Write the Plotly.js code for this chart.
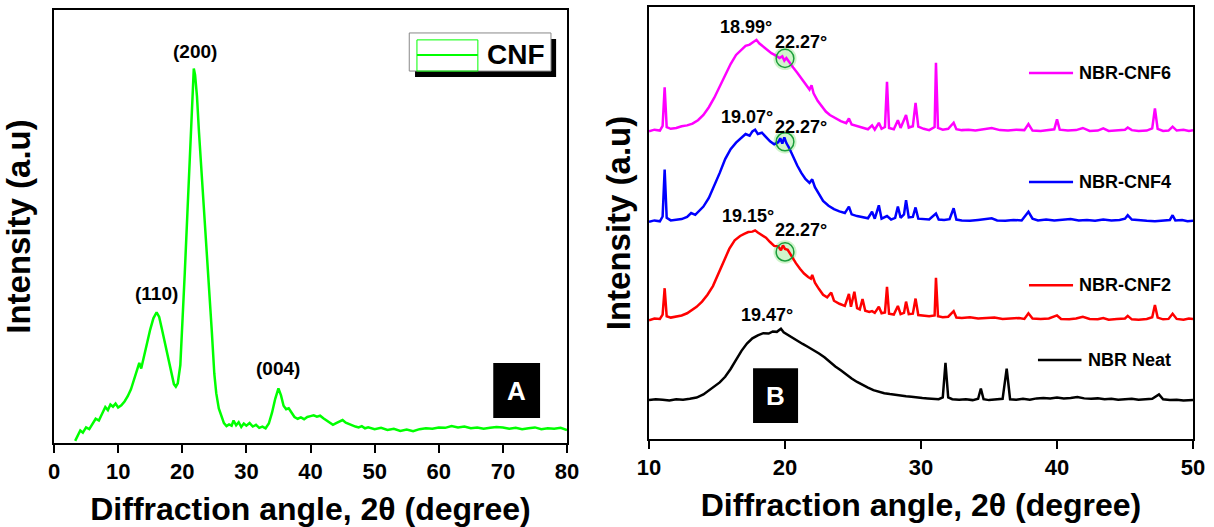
<!DOCTYPE html>
<html><head><meta charset="utf-8">
<script src="https://cdn.plot.ly/plotly-3.0.1.min.js"></script>
<style>html,body{margin:0;padding:0;background:#fff}#chart{width:1214px;height:527px}</style>
</head><body><div id="chart"></div>
<script>
// ---------- Panel A : CNF ----------
const cnfX = [3.3,3.7,4.1,4.5,5.0,5.5,6.0,6.5,7.0,7.5,8.0,8.4,8.8,9.2,9.6,10.0,10.5,11.0,11.5,12.0,12.5,13.0,13.3,13.6,14.0,14.5,15.0,15.5,16.0,16.4,16.8,17.2,17.6,18.0,18.4,18.7,19.0,19.3,19.7,20.0,20.4,20.8,21.2,21.5,21.8,22.0,22.3,22.6,23.0,23.4,23.8,24.2,24.6,25.0,25.3,25.7,26.1,26.5,26.9,27.3,27.7,28.0,28.4,28.8,29.2,29.6,30.0,30.5,31.0,31.5,32.0,32.5,33.0,33.5,34.0,34.5,35.0,35.4,35.8,36.2,36.6,37.0,37.5,38.0,38.5,39.0,39.5,40.0,40.5,41.0,41.5,42.0,42.5,43.0,43.5,44.0,44.5,45.0,45.5,46.0,46.5,47.0,47.5,48.0,48.5,49.0,50,51,52,53,54,55,56,57,58,59,60,61,62,63,64,65,66,67,68,69,70,71,72,73,74,75,76,77,78,79,80];
const cnfY = [0.5,1.8,2.9,2.4,3.6,3.2,4.5,5.6,5.2,6.8,8.3,7.6,8.9,8.4,9.1,8.2,8.7,9.6,10.8,12.4,14.6,16.8,18.5,17.2,19.5,23.0,26.2,28.8,30.2,29.1,26.5,23.8,21.2,18.6,15.2,13.6,13.0,13.8,18.0,26.0,39.5,53.0,67.0,78.0,86.5,85.0,80.0,72.0,63.0,55.0,45.0,36.0,26.0,16.0,11.5,8.0,6.4,4.6,3.9,4.3,4.0,5.2,4.1,4.8,3.7,4.5,4.0,4.6,3.8,4.2,3.5,3.8,3.4,4.5,7.0,10.2,12.6,11.0,8.6,7.8,8.0,7.2,6.0,5.6,5.9,5.5,6.0,6.2,6.4,6.1,6.3,5.7,5.2,4.8,4.2,4.6,4.9,5.3,4.7,4.4,4.0,3.8,3.6,3.9,3.4,3.6,3.2,3.5,3.0,3.3,2.8,3.1,2.7,3.2,3.4,3.3,3.6,3.5,3.9,3.6,3.8,3.4,3.6,3.3,3.5,3.7,3.6,3.3,3.5,3.2,3.4,3.6,3.2,3.4,3.3,3.5,3.0];
const cnfPeakLabels = ["(110)","(200)","(004)"];

// ---------- Panel B : NBR composites (offset stacked) ----------
const cnf6X = [10.0,10.4,10.8,11.0,11.15,11.3,11.6,12.0,12.4,12.8,13.2,13.6,14.0,14.4,14.8,15.2,15.6,16.0,16.4,16.8,17.1,17.4,17.7,17.9,18.1,18.4,18.7,19.0,19.3,19.6,19.8,19.95,20.1,20.3,20.6,20.9,21.2,21.5,21.8,21.95,22.1,22.4,22.7,23.0,23.3,23.7,24.1,24.5,24.7,24.9,25.3,25.7,26.1,26.4,26.6,26.9,27.1,27.35,27.5,27.65,28.0,28.3,28.5,28.9,29.1,29.4,29.6,29.8,30.2,30.6,31.0,31.1,31.25,31.6,32.0,32.4,32.6,33.0,33.5,34.0,34.5,35.2,35.8,36.4,37.0,37.6,37.9,38.2,38.8,39.4,39.8,40.0,40.2,40.8,41.4,41.9,42.4,43.0,43.4,43.8,44.4,45.0,45.2,45.5,46.0,46.6,47.0,47.2,47.4,47.8,48.2,48.5,48.8,49.3,49.7,50.0];
const cnf6Y = [71.2,71.6,71.4,72.5,81.4,72.2,71.8,72.0,72.4,72.6,73.0,73.8,75.0,76.8,79.0,81.5,84.3,86.8,88.9,90.2,91.0,91.3,92.0,92.4,91.6,90.8,90.1,89.3,88.8,88.2,88.6,87.6,88.2,87.2,86.0,84.8,83.5,82.3,80.9,81.9,80.0,78.3,76.9,75.8,75.0,74.2,73.6,73.1,74.2,72.8,72.4,72.0,71.7,72.6,71.6,73.2,71.8,72.2,82.7,72.0,71.7,73.8,72.0,75.0,72.1,72.4,77.8,72.3,71.8,71.5,72.2,87.1,72.0,71.6,71.8,73.2,71.7,71.5,71.6,71.4,71.7,72.0,71.5,71.4,71.6,71.5,72.9,71.4,71.3,71.6,71.7,74.0,71.6,71.4,71.5,72.0,71.3,71.4,71.9,71.3,71.4,71.6,72.1,71.5,71.3,71.4,71.9,76.5,71.8,71.3,71.4,72.3,71.4,71.6,71.3,71.5];

const cnf4X = [10.0,10.4,10.8,11.0,11.15,11.3,11.6,12.0,12.4,12.8,13.1,13.4,13.7,14.0,14.4,14.8,15.2,15.6,16.0,16.4,16.8,17.1,17.4,17.6,17.8,18.0,18.3,18.6,18.9,19.2,19.5,19.65,19.8,19.95,20.1,20.3,20.6,20.9,21.2,21.5,21.8,22.0,22.2,22.5,22.8,23.2,23.6,24.0,24.4,24.7,24.9,25.3,25.7,26.1,26.4,26.6,26.9,27.1,27.5,27.8,28.1,28.3,28.5,28.75,28.9,29.1,29.4,29.6,29.8,30.2,30.6,31.1,31.3,31.7,32.1,32.4,32.6,33.0,33.6,34.2,34.8,35.2,35.6,36.2,36.8,37.4,37.9,38.2,38.6,39.2,39.8,40.4,41.0,41.6,42.2,42.8,43.4,44.0,44.6,45.0,45.2,45.5,46.0,46.6,47.2,47.8,48.3,48.5,48.7,49.2,49.6,50.0];
const cnf4Y = [50.3,50.6,50.4,51.5,62.4,51.2,50.6,50.7,50.9,51.4,52.3,51.9,52.8,53.8,55.8,58.6,61.6,64.8,67.1,68.6,69.8,70.6,70.2,71.2,71.6,70.6,70.9,69.8,68.9,68.2,68.7,69.6,68.4,69.8,68.5,67.4,65.3,63.3,61.6,60.2,59.3,60.1,58.3,56.6,55.1,54.0,53.2,52.7,52.3,53.8,52.0,51.6,51.3,51.1,52.6,51.0,54.1,51.0,51.6,50.8,51.2,53.8,51.2,52.0,55.3,51.3,51.4,53.6,51.0,50.9,50.8,52.2,50.8,50.7,50.9,53.4,50.8,50.6,50.5,50.7,50.9,51.1,50.6,50.5,50.7,50.6,52.6,51.0,50.6,50.8,50.6,50.7,50.9,50.6,50.7,50.5,50.8,50.6,50.7,51.0,51.8,50.8,50.6,50.5,50.4,50.6,50.7,51.8,50.6,50.7,50.4,50.5];

const cnf2X = [10.0,10.4,10.8,11.0,11.15,11.3,11.6,12.0,12.4,12.8,13.1,13.5,13.9,14.3,14.7,15.1,15.5,15.9,16.3,16.7,17.0,17.3,17.6,17.8,18.0,18.3,18.6,18.9,19.2,19.5,19.7,19.85,20.0,20.2,20.5,20.8,21.1,21.4,21.7,21.9,22.0,22.2,22.5,22.8,23.1,23.4,23.6,24.0,24.4,24.7,24.85,25.1,25.3,25.5,25.7,25.9,26.2,26.4,26.6,26.9,27.1,27.35,27.5,27.65,28.0,28.3,28.5,28.75,28.9,29.1,29.4,29.6,29.8,30.2,30.6,31.0,31.1,31.25,31.6,32.0,32.4,32.6,33.0,33.6,34.2,34.8,35.4,36.0,36.6,37.2,37.6,37.9,38.2,38.8,39.4,40.0,40.3,40.9,41.4,41.9,42.4,43.0,43.4,43.8,44.4,45.0,45.2,45.5,46.0,46.6,47.0,47.2,47.4,47.8,48.2,48.5,48.8,49.3,49.7,50.0];
const cnf2Y = [27.5,27.9,27.8,28.8,34.9,28.4,28.1,28.3,28.6,29.1,29.8,30.6,31.8,33.4,35.4,38.2,41.3,44.0,46.0,47.0,47.5,47.9,48.0,48.3,47.8,47.2,46.6,45.6,44.7,44.6,43.7,44.8,44.0,43.8,42.2,40.7,39.4,38.3,37.5,37.1,38.0,36.2,34.7,33.4,32.8,33.9,32.0,31.3,30.8,33.6,30.6,34.1,30.3,30.0,32.4,29.7,29.4,29.6,29.2,30.6,29.1,29.3,35.2,29.0,28.8,30.8,28.9,29.2,31.8,28.9,29.0,32.5,28.7,28.5,28.4,28.6,37.3,28.4,28.2,28.3,29.6,28.1,28.0,28.2,27.9,28.0,28.1,27.8,27.9,28.0,27.8,29.1,27.9,27.8,27.9,28.6,27.8,27.7,27.9,28.3,27.8,27.7,28.0,27.6,27.8,27.9,28.5,27.7,27.6,27.8,28.2,31.0,28.1,27.7,27.8,29.0,27.8,27.6,27.9,27.8];

const neatX = [10.0,10.5,11.0,11.5,12.0,12.5,13.0,13.5,14.0,14.4,14.8,15.2,15.6,16.0,16.4,16.8,17.2,17.6,18.0,18.4,18.8,19.1,19.4,19.7,19.9,20.2,20.5,20.9,21.3,21.7,22.1,22.5,22.9,23.3,23.7,24.1,24.5,24.9,25.3,25.7,26.1,26.5,26.9,27.3,27.7,28.1,28.5,28.9,29.3,29.7,30.1,30.5,30.9,31.3,31.6,31.8,32.0,32.3,32.8,33.3,33.8,34.2,34.4,34.6,35.0,35.5,36.0,36.3,36.55,37.0,37.5,38.0,38.5,39.0,39.5,40.0,40.5,41.0,41.5,42.0,42.5,43.0,43.5,44.0,44.5,45.0,45.5,46.0,46.5,47.0,47.5,47.8,48.3,48.8,49.3,50.0];
const neatY = [9.0,9.2,9.1,8.9,9.2,9.1,9.3,9.6,10.3,11.2,12.0,13.1,14.4,16.2,18.3,20.4,22.1,23.3,24.0,24.5,24.4,24.9,24.8,25.5,24.7,24.1,23.4,22.8,22.0,21.3,20.6,19.8,18.9,17.8,16.8,15.9,14.9,14.0,13.2,12.5,11.9,11.3,10.9,10.6,10.4,10.2,10.0,9.9,9.8,9.6,9.5,9.4,9.3,9.2,9.6,17.6,9.6,9.2,9.1,9.2,9.0,9.3,11.7,9.2,9.0,9.1,9.3,16.3,9.2,9.1,9.3,9.1,9.4,9.5,9.4,9.6,9.4,9.5,9.7,9.4,9.3,9.4,9.2,9.3,9.1,9.2,9.3,9.1,9.2,9.3,10.3,9.2,9.0,9.1,8.9,9.0];

const seriesNames = ["NBR-CNF6","NBR-CNF4","NBR-CNF2","NBR Neat"];
const seriesColors = ["#ff00ff","#0000ff","#ff0000","#000000"];
const amorphousPeaks = ["18.99°","19.07°","19.15°","19.47°"];
const crystalPeak = "22.27°";

const FONT = "Liberation Sans, Arial, Helvetica, sans-serif";
const bold = (size, color) => ({family: FONT, size: size, color: color || "#000", weight: "bold"});

const traces = [
  {x: cnfX, y: cnfY, xaxis: "x", yaxis: "y", mode: "lines", name: "CNF", line: {color: "#00ff00", width: 2.5}},
  {x: cnf6X, y: cnf6Y, xaxis: "x2", yaxis: "y2", mode: "lines", name: seriesNames[0], line: {color: seriesColors[0], width: 2.5}},
  {x: cnf4X, y: cnf4Y, xaxis: "x2", yaxis: "y2", mode: "lines", name: seriesNames[1], line: {color: seriesColors[1], width: 2.5}},
  {x: cnf2X, y: cnf2Y, xaxis: "x2", yaxis: "y2", mode: "lines", name: seriesNames[2], line: {color: seriesColors[2], width: 2.5}},
  {x: neatX, y: neatY, xaxis: "x2", yaxis: "y2", mode: "lines", name: seriesNames[3], line: {color: seriesColors[3], width: 2.5}}
];

const axBase = {
  showline: true, linecolor: "#000", linewidth: 2, mirror: true,
  showgrid: false, zeroline: false
};
const xTitle = () => ({text: "Diffraction angle, 2θ (degree)", font: bold(32), standoff: 14});
const yTitle = (so) => ({text: "Intensity (a.u)", font: bold(33), standoff: so});

const annotations = [];
const shapes = [];

// Panel A peak labels
[[16.0, 34.5, cnfPeakLabels[0]],[22.0, 90.5, cnfPeakLabels[1]],[35.0, 17.3, cnfPeakLabels[2]]].forEach(p => {
  annotations.push({xref: "x", yref: "y", x: p[0], y: p[1], text: p[2], showarrow: false, font: bold(19)});
});
// Panel A legend box
shapes.push({type: "rect", xref: "x", yref: "y", x0: 56.3, x1: 78.3, y0: 84.5, y1: 93.3, fillcolor: "#000", line: {width: 0}});
shapes.push({type: "rect", xref: "x", yref: "y", x0: 55.4, x1: 77.5, y0: 85.9, y1: 94.7, fillcolor: "#fff", line: {color: "#888", width: 1}});
shapes.push({type: "rect", xref: "x", yref: "y", x0: 56.6, x1: 66.1, y0: 85.9, y1: 93.1, line: {color: "#00ff00", width: 1}});
shapes.push({type: "line", xref: "x", yref: "y", x0: 56.6, x1: 66.1, y0: 89.6, y1: 89.6, line: {color: "#00ff00", width: 2}});
annotations.push({xref: "x", yref: "y", x: 72.0, y: 89.8, text: "CNF", showarrow: false, font: bold(28)});
// Panel A "A" box
shapes.push({type: "rect", xref: "x", yref: "y", x0: 68.5, x1: 75.8, y0: 5.8, y1: 18.5, fillcolor: "#000", line: {width: 0}});
annotations.push({xref: "x", yref: "y", x: 72.15, y: 12.1, text: "A", showarrow: false, font: bold(26, "#fff")});

// Panel B peak labels
const peakLabelY = [95.4, 74.6, 51.6, 28.7];
const peakLabelX = [17.1, 17.2, 17.3, 18.7];
amorphousPeaks.forEach((t, i) => {
  annotations.push({xref: "x2", yref: "y2", x: peakLabelX[i], y: peakLabelY[i], text: t, showarrow: false, font: bold(18)});
});
const crystalLabelY = [91.9, 72.3, 48.4];
const circleY = [88.1, 68.8, 43.3];
crystalLabelY.forEach((yy, i) => {
  annotations.push({xref: "x2", yref: "y2", x: 21.2, y: yy, text: crystalPeak, showarrow: false, font: bold(18)});
  shapes.push({type: "circle", xref: "x2", yref: "y2", x0: 19.15, x1: 20.85, y0: circleY[i] - 2.7, y1: circleY[i] + 2.7,
    fillcolor: "rgba(150,230,140,0.45)", line: {width: 0}, layer: "below"});
  shapes.push({type: "circle", xref: "x2", yref: "y2", x0: 19.35, x1: 20.65, y0: circleY[i] - 2.1, y1: circleY[i] + 2.1,
    line: {color: "#1a9e3a", width: 1.5}});
});
// Panel B legend
const legY = [84.7, 59.5, 35.6, 18.3];
const legX0 = [37.94, 37.94, 37.94, 38.6];
const legX1 = [41.18, 41.18, 41.18, 41.8];
seriesNames.forEach((n, i) => {
  shapes.push({type: "line", xref: "x2", yref: "y2", x0: legX0[i], x1: legX1[i], y0: legY[i], y1: legY[i], line: {color: seriesColors[i], width: 2.5}});
  annotations.push({xref: "x2", yref: "y2", x: legX1[i] + 0.3, y: legY[i], xanchor: "left", text: n, showarrow: false, font: bold(18)});
});
// Panel B "B" box
shapes.push({type: "rect", xref: "x2", yref: "y2", x0: 17.65, x1: 20.96, y0: 3.7, y1: 16.4, fillcolor: "#000", line: {width: 0}});
annotations.push({xref: "x2", yref: "y2", x: 19.3, y: 10.0, text: "B", showarrow: false, font: bold(26, "#fff")});

const layout = {
  width: 1214, height: 527,
  margin: {l: 54, r: 21, t: 7, b: 84},
  paper_bgcolor: "#fff", plot_bgcolor: "#fff",
  showlegend: false,
  font: {family: FONT, color: "#000"},
  xaxis: Object.assign({}, axBase, {domain: [0, 0.4504], anchor: "y", range: [0, 80], dtick: 10, tick0: 0,
    ticks: "outside", ticklen: 8, tickwidth: 2, tickcolor: "#000", tickfont: bold(22), title: xTitle()}),
  yaxis: Object.assign({}, axBase, {domain: [0, 0.9931], anchor: "x", range: [0, 100], showticklabels: false, ticks: "", title: yTitle(11)}),
  xaxis2: Object.assign({}, axBase, {domain: [0.5224, 1], anchor: "y2", range: [10, 50], dtick: 10, tick0: 10,
    ticks: "outside", ticklen: 8, tickwidth: 2, tickcolor: "#000", tickfont: bold(22), title: xTitle()}),
  yaxis2: Object.assign({}, axBase, {domain: [0.0092, 1], anchor: "x2", range: [0, 100], showticklabels: false, ticks: "", title: yTitle(6)}),
  annotations: annotations,
  shapes: shapes
};

Plotly.newPlot("chart", traces, layout, {displayModeBar: false, staticPlot: true});
</script></body></html>
